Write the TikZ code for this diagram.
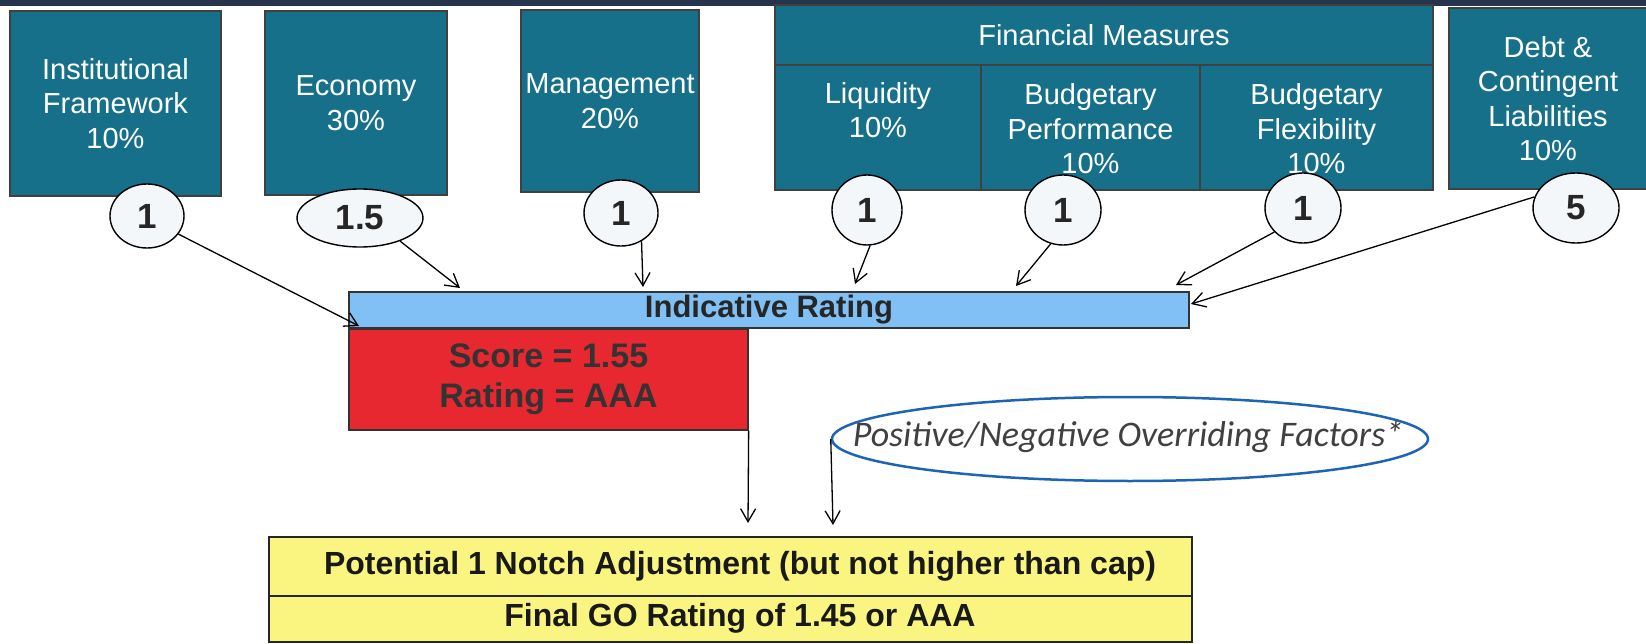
\documentclass[tikz,border=0pt]{standalone}
\usepackage{fontspec}
\setmainfont{Liberation Sans}
\newfontfamily\calibfont{Carlito}
\usetikzlibrary{arrows.meta,shapes.geometric,calc}

\definecolor{factorteal}{RGB}{22,112,138}
\definecolor{topband}{RGB}{38,52,78}
\definecolor{scorefill}{RGB}{244,247,249}
\definecolor{barblue}{RGB}{128,192,244}
\definecolor{scorered}{RGB}{232,40,48}
\definecolor{adjyellow}{RGB}{250,245,128}
\definecolor{ovrblue}{RGB}{30,100,180}

\begin{document}
\begin{tikzpicture}[x=1pt,y=-1pt,
  factor/.style={draw=black!75, line width=1.2pt, fill=factorteal, text=white,
    align=center, inner sep=0pt, font=\fontsize{29}{34.5}\selectfont},
  celltext/.style={text=white, align=center, inner sep=0pt,
    font=\fontsize{29}{34.5}\selectfont},
  score/.style={ellipse, draw=black, line width=1.4pt, fill=scorefill,
    inner sep=0pt, text=black!85, font=\bfseries\fontsize{35}{40}\selectfont},
  ybox/.style={draw=black!85, line width=1.3pt, fill=adjyellow, inner sep=0pt},
  ytext/.style={inner sep=0pt, text=black!90,
    font=\bfseries\fontsize{32}{38}\selectfont},
  arr/.style={line width=1.3pt, -{Straight Barb[length=13pt,width=15pt]}},
]
\useasboundingbox (0,0) rectangle (1646,644);

% dark strip along the top edge
\fill[topband] (0,0) rectangle (1646,6);

% rating factors
\node[factor, minimum width=211pt, minimum height=185pt] (inst) at (115.5,103.5)
  {Institutional\\Framework\\10\%};
\node[factor, minimum width=182pt, minimum height=184pt] (econ) at (356,103)
  {Economy\\30\%};
\node[factor, minimum width=178pt, minimum height=182pt] (mgmt) at (610,101)
  {Management\\20\%};

% financial measures block
\node[factor, minimum width=658pt, minimum height=60pt] (fin) at (1104,35)
  {Financial Measures};
\node[factor, minimum width=206pt, minimum height=125pt] (liq) at (878,127.5) {};
\node[factor, minimum width=219pt, minimum height=125pt] (bperf) at (1090.5,127.5) {};
\node[factor, minimum width=233pt, minimum height=125pt] (bflex) at (1316.5,127.5) {};
\node[celltext] (liqtxt) at (878,110) {Liquidity\\10\%};
\node[celltext] (bperftxt) at (1090.5,129) {Budgetary\\Performance\\10\%};
\node[celltext] (bflextxt) at (1316.5,129) {Budgetary\\Flexibility\\10\%};

\node[factor, minimum width=198pt, minimum height=181pt] (debt) at (1548,98.5)
  {Debt \&\\Contingent\\Liabilities\\10\%};

% factor scores
\node[score, minimum width=74pt, minimum height=64pt] (c1) at (147,216) {1};
\node[score, minimum width=126pt, minimum height=58pt] (c2) at (360,218) {1.5};
\node[score, minimum width=74pt, minimum height=66pt] (c3) at (621,213) {1};
\node[score, minimum width=70pt, minimum height=70pt] (c4) at (867,210) {1};
\node[score, minimum width=76pt, minimum height=70pt] (c5) at (1063,210) {1};
\node[score, minimum width=76pt, minimum height=70pt] (c6) at (1303,208) {1};
\node[score, minimum width=86pt, minimum height=70pt] (c7) at (1576,208) {5};

% indicative rating
\node[draw=black!80, line width=1.3pt, fill=barblue, inner sep=0pt,
  minimum width=840pt, minimum height=36pt, text=black!85,
  font=\bfseries\fontsize{31}{36}\selectfont] (bar) at (769,310) {Indicative Rating};
\node[draw=black!80, line width=1.3pt, fill=scorered, inner sep=0pt, align=center,
  minimum width=399pt, minimum height=101pt, text=black!80,
  font=\bfseries\fontsize{34}{40}\selectfont] (red) at (548.5,379.5)
  {Score = 1.55\\Rating = AAA};

% overriding factors
\node[ellipse, draw=ovrblue, line width=2.5pt, inner sep=0pt,
  minimum width=596pt, minimum height=84pt] (ovr) at (1130,439) {};
\node[inner sep=0pt, text=black!75,
  font=\calibfont\itshape\fontsize{36}{40}\selectfont] (ovrtxt) at (1128,437)
  {Positive/Negative Overriding Factors*};

% adjustment and final rating
\node[ybox, minimum width=923pt, minimum height=59pt] (adj) at (730.5,566.5) {};
\node[ybox, minimum width=923pt, minimum height=46pt] (final) at (730.5,619) {};
\node[ytext] (adjtxt) at (740,566.5)
  {Potential 1 Notch Adjustment (but not higher than cap)};
\node[ytext] (finaltxt) at (740,618)
  {Final GO Rating of 1.45 or AAA};

% arrow end points
\coordinate (e1) at (359,326);
\coordinate (e2) at (460,288);
\coordinate (e3) at (643,287);
\coordinate (e4) at (855,284);
\coordinate (e5) at (1016,286);
\coordinate (e6) at (1176,285);
\coordinate (e7) at (1191,304);
\coordinate (f1) at (748,523);
\coordinate (f2) at (833,525);

% connectors
\draw[arr] (c1.-30) -- (e1);
\draw[arr] (c2.-30) -- (e2);
\draw[arr] (c3.-54) -- (e3);
\draw[arr] (c4.-85) -- (e4);
\draw[arr] (c5.-110) -- (e5);
\draw[arr] (c6.-140) -- (e6);
\draw[arr] (c7.165) -- (e7);
\draw[arr] (red.south east) -- (f1);
\draw[arr] (ovr.west) -- (f2);
\end{tikzpicture}
\end{document}
